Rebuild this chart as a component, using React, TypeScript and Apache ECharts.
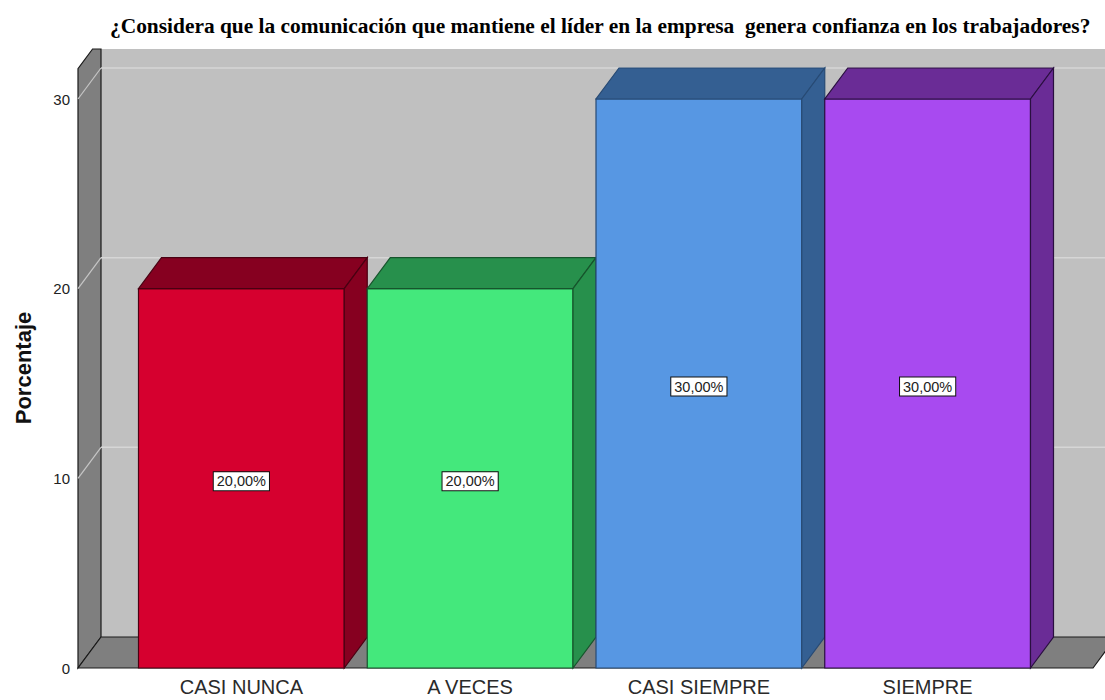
import React, { useEffect, useRef } from "react";
import * as echarts from "echarts";

const TITLE = "¿Considera que la comunicación que mantiene el líder en la empresa  genera confianza en los trabajadores?";
const CATEGORIES = ["CASI NUNCA", "A VECES", "CASI SIEMPRE", "SIEMPRE"];
const PERCENTAGES = [20, 20, 30, 30];
const VALUE_LABELS = ["20,00%", "20,00%", "30,00%", "30,00%"];
const Y_MIN = 0;
const Y_MAX = 30;
const Y_INTERVAL = 10;
const Y_NAME = "Porcentaje";

const FRONT_COLORS = ["#d6002f", "#44e87c", "#5797e3", "#a84af0"];
const SIDE_COLORS = ["#860020", "#27904c", "#345f92", "#6a2c96"];
const EDGE_COLORS = ["#4a0012", "#16552c", "#274a74", "#2a0f40"];

// 3D depth offset (px)
const DX = 23;
const DY = -31;
const WALL_TOP_VALUE = 31.6;
const WALL_TOP_CLIP = 49;
const LEFT_PAD = 49;
const RIGHT_PAD = 51;

export default function App() {
  const ref = useRef<HTMLDivElement>(null);
  useEffect(() => {
    if (!ref.current) return;
    const chart = echarts.init(ref.current, undefined, { renderer: "svg" });

    const wallRender = (params: any, api: any) => {
      const cs = params.coordSys;
      const lx = cs.x - LEFT_PAD;
      const rx = cs.x + cs.width + RIGHT_PAD;
      const y0f = api.coord([0, 0])[1];
      const y0b = y0f + DY;
      const ytf = api.coord([0, WALL_TOP_VALUE])[1];
      const bx = lx + DX;
      const children: any[] = [];
      children.push({
        type: "rect",
        shape: { x: bx, y: WALL_TOP_CLIP, width: 1200, height: y0b - WALL_TOP_CLIP },
        style: { fill: "#c0c0c0", stroke: "none" },
      });
      const cutX = lx + ((ytf - WALL_TOP_CLIP) / -DY) * DX;
      children.push({
        type: "polygon",
        shape: { points: [[lx, y0f], [lx, ytf], [cutX, WALL_TOP_CLIP], [bx, WALL_TOP_CLIP], [bx, y0b]] },
        style: { fill: "#7f7f7f", stroke: "#1a1a1a", lineWidth: 1.2 },
      });
      for (let t = Y_MIN + Y_INTERVAL; t <= Y_MAX; t += Y_INTERVAL) {
        const yf = api.coord([0, t])[1];
        const yb = yf + DY;
        children.push({
          type: "line",
          shape: { x1: bx, y1: yb, x2: 1200, y2: yb },
          style: { stroke: "#d6d6d6", lineWidth: 1.5 },
        });
        children.push({
          type: "line",
          shape: { x1: lx, y1: yf, x2: bx, y2: yb },
          style: { stroke: "#c6c6c6", lineWidth: 1.2 },
        });
      }
      children.push({
        type: "polygon",
        shape: { points: [[lx, y0f], [rx, y0f], [rx + DX, y0b], [bx, y0b]] },
        style: { fill: "#7f7f7f", stroke: "#1a1a1a", lineWidth: 1.2 },
      });
      return { type: "group", children };
    };

    const barRender = (params: any, api: any) => {
      const i = api.value(0);
      const v = api.value(1);
      const top = api.coord([i, v]);
      const base = api.coord([i, 0]);
      const bw = api.size([1, 0])[0];
      const hw = (bw - DX) / 2;
      const x0 = top[0] - hw;
      const x1 = top[0] + hw;
      const yT = top[1];
      const yB = base[1];
      const mid = api.coord([i, v / 2]);
      const edge = EDGE_COLORS[i];
      return {
        type: "group",
        children: [
          {
            type: "polygon",
            shape: { points: [[x0, yT], [x1, yT], [x1, yB], [x0, yB]] },
            style: { fill: FRONT_COLORS[i], stroke: edge, lineWidth: 1.2 },
          },
          {
            type: "polygon",
            shape: { points: [[x0, yT], [x1, yT], [x1 + DX, yT + DY], [x0 + DX, yT + DY]] },
            style: { fill: SIDE_COLORS[i], stroke: edge, lineWidth: 1.2 },
          },
          {
            type: "polygon",
            shape: { points: [[x1, yT], [x1 + DX, yT + DY], [x1 + DX, yB + DY], [x1, yB]] },
            style: { fill: SIDE_COLORS[i], stroke: edge, lineWidth: 1.2 },
          },
          {
            type: "text",
            x: mid[0],
            y: mid[1] + 3,
            style: {
              text: VALUE_LABELS[i],
              fill: "#222",
              font: "14.5px 'Liberation Sans', Arial, sans-serif",
              align: "center",
              verticalAlign: "middle",
              backgroundColor: "#ffffff",
              borderColor: "#111",
              borderWidth: 1,
              padding: [2, 3, 1, 3],
            },
          },
        ],
      };
    };

    chart.setOption({
      animation: false,
      backgroundColor: "#ffffff",
      title: {
        text: TITLE,
        left: 105,
        top: 10,
        textStyle: {
          fontFamily: "'Liberation Serif', 'Times New Roman', serif",
          fontWeight: "bold",
          fontSize: 21.4,
          color: "#000",
        },
      },
      graphic: [
        {
          type: "text",
          x: 23,
          y: 368,
          rotation: Math.PI / 2,
          style: {
            text: Y_NAME,
            fill: "#111",
            font: "bold 22px 'Liberation Sans', Arial, sans-serif",
            align: "center",
            verticalAlign: "middle",
          },
        },
      ],
      grid: { left: 127, right: 63, top: 99, bottom: 32, containLabel: false, outerBoundsMode: "none" },
      xAxis: {
        type: "category",
        data: CATEGORIES,
        axisLine: { show: false },
        axisTick: { show: false },
        splitLine: { show: false },
        axisLabel: {
          margin: 9,
          fontSize: 20,
          lineHeight: 20,
          fontFamily: "'Liberation Sans', Arial, sans-serif",
          color: "#2a2a2a",
        },
      },
      yAxis: {
        type: "value",
        min: Y_MIN,
        max: Y_MAX,
        interval: Y_INTERVAL,
        axisLine: { show: false },
        axisTick: { show: false },
        splitLine: { show: false },
        axisLabel: {
          margin: 57,
          fontSize: 15,
          fontFamily: "'Liberation Sans', Arial, sans-serif",
          color: "#222",
        },
      },
      series: [
        {
          type: "custom",
          z: 1,
          silent: true,
          data: [[0, 0]],
          renderItem: wallRender,
        },
        {
          type: "custom",
          z: 2,
          data: PERCENTAGES.map((v, i) => [i, v]),
          encode: { x: 0, y: 1 },
          renderItem: barRender,
        },
      ],
    });
    return () => chart.dispose();
  }, []);
  return <div ref={ref} style={{ position: "fixed", left: 0, top: 0, width: 1105, height: 700, background: "#fff" }} />;
}
